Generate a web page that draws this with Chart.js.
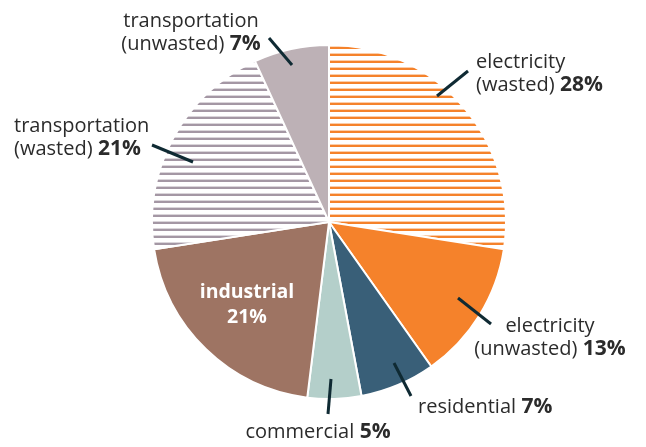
<!DOCTYPE html>
<html>
<head>
<meta charset="utf-8">
<script src="https://cdn.jsdelivr.net/npm/chart.js@4/dist/chart.umd.min.js"></script>
<style>
  html, body { margin: 0; padding: 0; background: #fff; }
  #wrap { width: 646px; height: 447px; }
</style>
</head>
<body>
<div id="wrap"><canvas id="pie" width="646" height="447"></canvas></div>
<script>
// ─── Data ────────────────────────────────────────────────────────────────
const categories = [
  ["electricity", "(wasted)"],
  ["electricity", "(unwasted)"],
  ["residential"],
  ["commercial"],
  ["industrial"],
  ["transportation", "(wasted)"],
  ["transportation", "(unwasted)"],
];
const shares = [28, 13, 7, 5, 21, 21, 7];   // percent, as labelled

// ─── Styles ──────────────────────────────────────────────────────────────
const ORANGE = "#f5822b";
const MAUVE_LINE = "#a497a4";

function stripes(color) {
  const c = document.createElement("canvas");
  c.width = 8; c.height = 7;
  const g = c.getContext("2d");
  g.fillStyle = color;
  g.fillRect(0, 4.6, 8, 2.6);
  return g.createPattern(c, "repeat");
}

const fills = [
  stripes(ORANGE),
  ORANGE,
  "#395f78",
  "#b4cfca",
  "#9e7463",
  stripes(MAUVE_LINE),
  "#bdb1b6",
];

// label layout: first baseline, alignment, leader line as offsets from pie centre
const labelLayout = [
  { x: 476, y: 68,  align: "left",   lead: [[108, -126], [139, -151]] },
  { x: 550, y: 332, align: "center", lead: [[129, 76],   [162, 102]] },
  { x: 418, y: 413, align: "left",   lead: [[65, 141],   [82, 174]] },
  { x: 318, y: 438, align: "center", lead: [[2, 157],    [-1, 192]] },
  { x: 247, y: 298, align: "center", inside: true },
  { x: 14,  y: 132, align: "left",   lead: [[-136, -60], [-177, -77]] },
  { x: 191, y: 27,  align: "center", lead: [[-37, -157], [-60, -184]] },
];

const FONT_FAMILY = "'Open Sans', sans-serif";
const TEXT = "#2b2b2b";
const LINE_H = 23;

function fontFor(bold, inside) {
  if (inside) return "bold 19.5px " + FONT_FAMILY;
  return bold ? "bold 21px " + FONT_FAMILY : "20px " + FONT_FAMILY;
}

// ─── Label plugin ────────────────────────────────────────────────────────
const pieLabels = {
  id: "pieLabels",
  afterDraw(chart) {
    const ctx = chart.ctx;
    const arc = chart.getDatasetMeta(0).data[0];
    const cx = arc.x, cy = arc.y;
    ctx.save();
    ctx.textBaseline = "alphabetic";
    ctx.textAlign = "left";

    labelLayout.forEach((lay, i) => {
      if (lay.lead) {
        ctx.beginPath();
        ctx.moveTo(cx + lay.lead[0][0], cy + lay.lead[0][1]);
        ctx.lineTo(cx + lay.lead[1][0], cy + lay.lead[1][1]);
        ctx.strokeStyle = "#0f2a33";
        ctx.lineWidth = 3;
        ctx.stroke();
      }

      const lines = categories[i].map(t => [{ t, bold: false }]);
      const pct = shares[i] + "%";
      if (lay.inside) lines.push([{ t: pct, bold: true }]);
      else lines[lines.length - 1].push({ t: " " + pct, bold: true });

      lines.forEach((segs, li) => {
        const widths = segs.map(s => {
          ctx.font = fontFor(s.bold, lay.inside);
          return ctx.measureText(s.t).width;
        });
        const total = widths.reduce((a, b) => a + b, 0);
        let x = lay.align === "center" ? lay.x - total / 2 : lay.x;
        const y = lay.y + li * (lay.inside ? 25 : LINE_H);
        segs.forEach((s, si) => {
          ctx.font = fontFor(s.bold, lay.inside);
          ctx.fillStyle = lay.inside ? "#ffffff" : TEXT;
          ctx.fillText(s.t, x, y);
          x += widths[si];
        });
      });
    });
    ctx.restore();
  },
};

// ─── Chart ───────────────────────────────────────────────────────────────
new Chart(document.getElementById("pie"), {
  type: "pie",
  data: {
    labels: categories,
    datasets: [{
      data: shares,
      backgroundColor: fills,
      borderColor: "#ffffff",
      borderWidth: 2,
    }],
  },
  options: {
    responsive: false,
    animation: false,
    layout: { padding: { top: 44, bottom: 47, left: 151, right: 139 } },
    plugins: {
      legend: { display: false },
      tooltip: { enabled: false },
    },
  },
  plugins: [pieLabels],
});
</script>
</body>
</html>
